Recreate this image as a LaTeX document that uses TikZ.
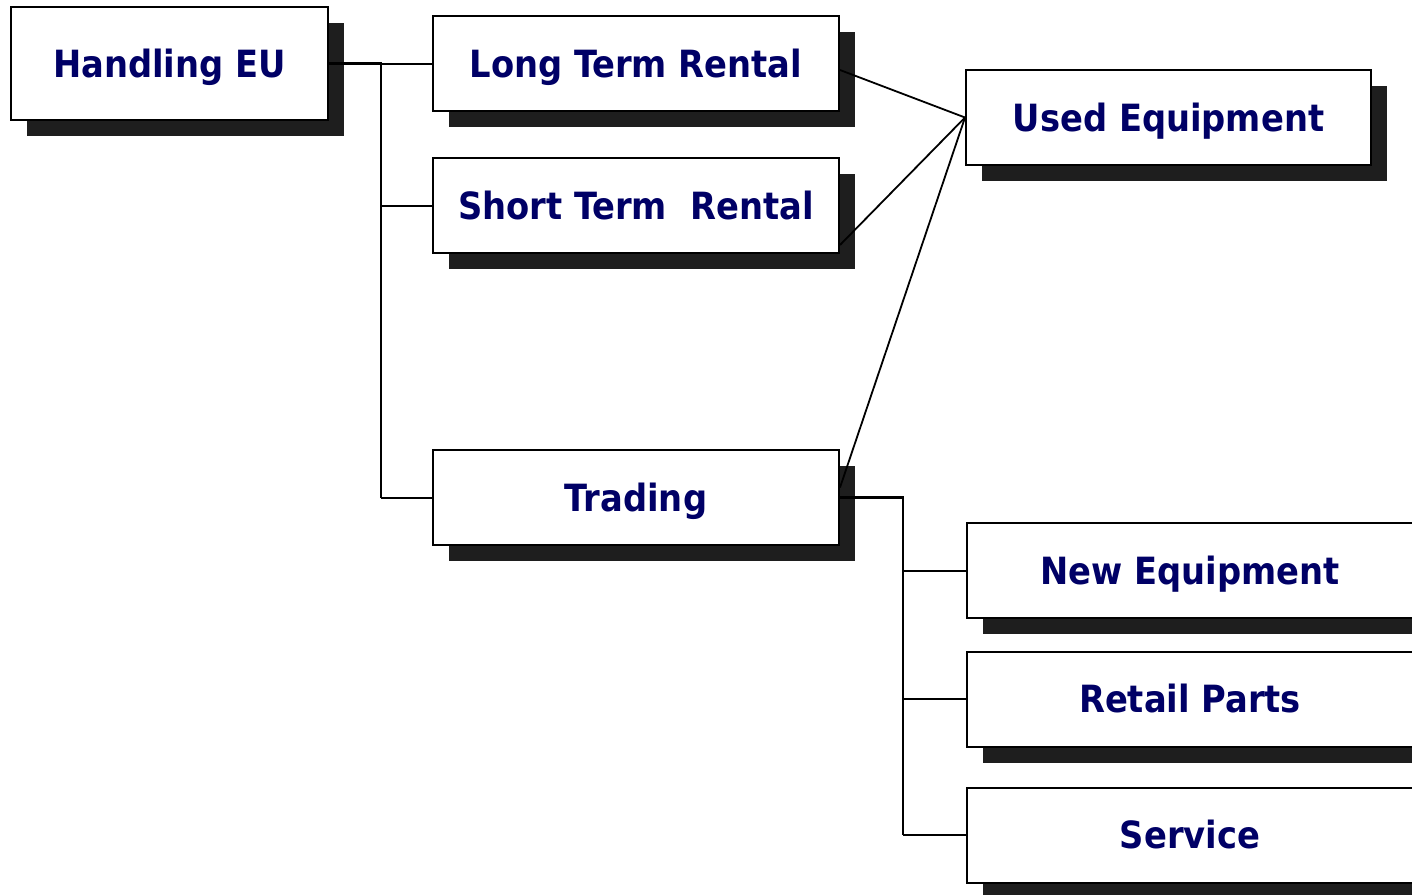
\documentclass[tikz,border=0pt]{standalone}
\usepackage{fontspec}
\setmainfont{DejaVu Sans Condensed}
\usetikzlibrary{shadows}
\definecolor{navytext}{RGB}{0,0,102}
\definecolor{shadowgray}{RGB}{30,30,30}
\tikzset{
  box/.style={draw=black, line width=2pt, fill=white, rectangle,
    minimum height=95pt, inner sep=0pt, text=navytext,
    text height=27pt, text depth=0pt,
    font=\fontsize{37.5}{40}\selectfont\bfseries,
    general shadow={fill=shadowgray, draw=none, shadow xshift=16pt, shadow yshift=-16pt}},
  wide/.style={minimum width=406pt},
  trunk/.style={draw=black, line width=2.8pt},
  branch/.style={draw=black, line width=2pt},
  diag/.style={draw=black, line width=1.8pt}
}
\begin{document}
\begin{tikzpicture}[x=1pt, y=-1pt]
\useasboundingbox (0,0) rectangle (1412,894);
\clip (0,0) rectangle (1412,894);
\node[box, minimum width=317pt, minimum height=113pt] (he) at (169.5,63.5) {Handling EU};
\node[box, wide] (ltr) at (636,63.5) {Long Term Rental};
\node[box, wide] (str) at (636,205.5) {Short Term~ Rental};
\node[box, wide] (trd) at (636,497.5) {Trading};
\node[box, minimum width=405pt] (ue) at (1168.5,117.5) {Used Equipment};
\node[box, minimum width=446pt] (ne) at (1190,570.5) {New Equipment};
\node[box, minimum width=446pt] (rp) at (1190,699) {Retail Parts};
\node[box, minimum width=446pt] (sv) at (1190,835) {Service};
\coordinate (hub) at (381,63.5);
\coordinate (hub2) at (903,497.5);
\draw[branch] (hub) -- (ltr.west);
\draw[branch] (hub |- str.west) -- (str.west);
\draw[branch] (hub |- trd.west) -- (trd.west);
\draw[trunk, line join=miter] (he.east) -- (hub) -- (hub |- trd.west);
\draw[branch] (hub2 |- ne.west) -- (ne.west);
\draw[branch] (hub2 |- rp.west) -- (rp.west);
\draw[branch] (hub2 |- sv.west) -- (sv.west);
\draw[trunk, line join=miter] (trd.east) -- (hub2) -- (hub2 |- sv.west);
\draw[diag] ([yshift=-6.5pt]ltr.east) -- (ue.west);
\draw[diag] ([yshift=-39.5pt]str.east) -- (ue.west);
\draw[diag] ([yshift=10pt]trd.east) -- (ue.west);
\end{tikzpicture}
\end{document}
